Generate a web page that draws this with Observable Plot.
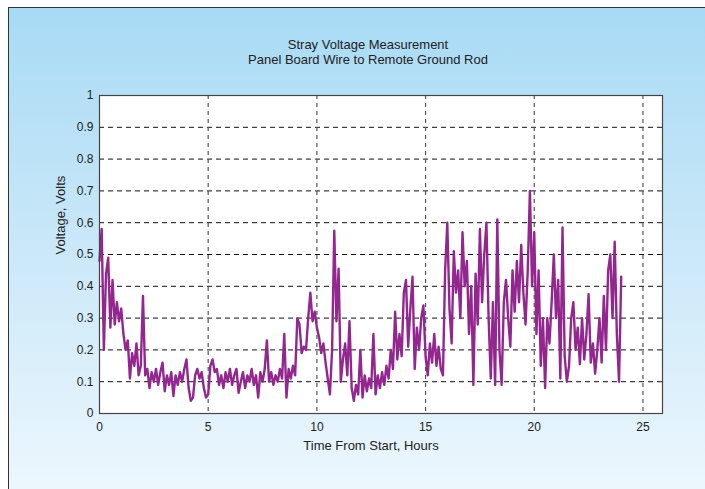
<!DOCTYPE html>
<html><head><meta charset="utf-8">
<script src="https://cdn.jsdelivr.net/npm/d3@7"></script>
<script src="https://cdn.jsdelivr.net/npm/@observablehq/plot@0.6"></script>
<style>
body{margin:0;background:#fff;}
#wrap{position:relative;width:705px;height:489px;overflow:hidden;background:#fff;}
#bg{position:absolute;left:8px;top:7px;width:740px;height:520px;border-left:1.5px solid #333;border-top:1.5px solid #333;background:linear-gradient(to bottom,#a8daf5 0%,#cde9f9 50%,#f2f9fe 100%);}
#title{position:absolute;left:0;top:37px;width:736px;text-align:center;font:13px "Liberation Sans",Arial,sans-serif;line-height:15px;color:#222;}
#chart{position:absolute;left:0;top:0;}
</style></head><body>
<div id="wrap"><div id="bg"></div><div id="title">Stray Voltage Measurement<br>Panel Board Wire to Remote Ground Rod</div><div id="chart"></div></div>
<script>
const titleLines = ["Stray Voltage Measurement", "Panel Board Wire to Remote Ground Rod"];
const xLabel = "Time From Start, Hours";
const yLabel = "Voltage, Volts";
const stepHours = 0.1; // sample spacing, hours
const volts = [
0.48,0.58,0.20,0.44,0.49,0.27,0.42,0.28,0.35,0.29,
0.33,0.25,0.20,0.23,0.11,0.19,0.15,0.22,0.12,0.15,
0.37,0.12,0.14,0.08,0.13,0.10,0.14,0.09,0.13,0.16,
0.07,0.12,0.09,0.13,0.055,0.12,0.09,0.13,0.10,0.14,
0.17,0.08,0.04,0.05,0.12,0.14,0.11,0.13,0.08,0.05,
0.06,0.15,0.17,0.13,0.14,0.09,0.12,0.08,0.13,0.10,
0.14,0.09,0.12,0.14,0.065,0.10,0.13,0.08,0.12,0.10,
0.14,0.09,0.12,0.05,0.13,0.10,0.14,0.23,0.10,0.13,
0.09,0.12,0.10,0.14,0.11,0.25,0.05,0.14,0.11,0.15,
0.12,0.30,0.28,0.19,0.21,0.20,0.30,0.38,0.29,0.32,
0.27,0.24,0.19,0.22,0.16,0.11,0.06,0.20,0.575,0.29,
0.455,0.10,0.17,0.22,0.12,0.29,0.08,0.04,0.09,0.06,
0.20,0.05,0.12,0.07,0.11,0.08,0.25,0.06,0.12,0.08,
0.13,0.09,0.15,0.11,0.20,0.14,0.32,0.17,0.25,0.18,
0.38,0.42,0.21,0.33,0.43,0.14,0.27,0.20,0.30,0.34,
0.18,0.12,0.22,0.16,0.25,0.15,0.21,0.14,0.12,0.45,
0.60,0.33,0.22,0.51,0.38,0.45,0.30,0.57,0.40,0.48,
0.25,0.40,0.09,0.44,0.28,0.58,0.35,0.50,0.60,0.30,
0.11,0.35,0.09,0.61,0.20,0.09,0.35,0.42,0.30,0.21,
0.45,0.32,0.48,0.35,0.53,0.38,0.28,0.45,0.70,0.40,
0.57,0.25,0.45,0.15,0.30,0.08,0.30,0.22,0.35,0.50,
0.30,0.42,0.11,0.585,0.18,0.10,0.15,0.30,0.35,0.20,
0.27,0.155,0.30,0.17,0.25,0.375,0.16,0.22,0.125,0.20,
0.30,0.16,0.37,0.20,0.45,0.50,0.30,0.54,0.25,0.10,
0.43
];
const xTicks = [0, 5, 10, 15, 20, 25];
const yTicks = [0, 0.1, 0.2, 0.3, 0.4, 0.5, 0.6, 0.7, 0.8, 0.9, 1];
const yTickLabels = ["0", "0.1", "0.2", "0.3", "0.4", "0.5", "0.6", "0.7", "0.8", "0.9", "1"];

const data = volts.map((v, i) => ({hours: +(i * stepHours).toFixed(2), volts: v}));

const chart = Plot.plot({
  width: 705, height: 489,
  marginLeft: 99, marginRight: 43, marginTop: 95, marginBottom: 76,
  style: {background: "transparent", fontFamily: "'Liberation Sans', Arial, sans-serif", fontSize: "12px", color: "#222"},
  x: {domain: [0, 25.9]},
  y: {domain: [0, 1]},
  marks: [
    Plot.frame({fill: "white"}),
    Plot.ruleY(yTicks.filter(d => d > 0 && d < 1), {stroke: "#111", strokeWidth: 1, strokeDasharray: "5,4"}),
    Plot.ruleX(xTicks.filter(d => d > 0), {stroke: "#555", strokeWidth: 1.2, strokeDasharray: "4,4"}),
    Plot.lineY(data, {x: "hours", y: "volts", stroke: "#93278f", strokeWidth: 2.4, strokeLinejoin: "round"}),
    Plot.frame({stroke: "#444", strokeWidth: 1.2}),
    Plot.axisX({ticks: xTicks, tickSize: 0, tickPadding: 9, tickFormat: d => String(d), label: null, fontSize: 12}),
    Plot.axisY({ticks: yTicks, tickSize: 0, tickPadding: 6, tickFormat: (d, i) => yTickLabels[yTicks.indexOf(d)], label: null, fontSize: 12}),
    Plot.text([xLabel], {frameAnchor: "bottom", dy: 36, dx: -10, text: d => d, fontSize: 13, fill: "#222"}),
    Plot.text([yLabel], {frameAnchor: "left", dx: -39, rotate: -90, text: d => d, fontSize: 13, fill: "#222"})
  ]
});
document.getElementById("chart").appendChild(chart);
</script>
</body></html>
